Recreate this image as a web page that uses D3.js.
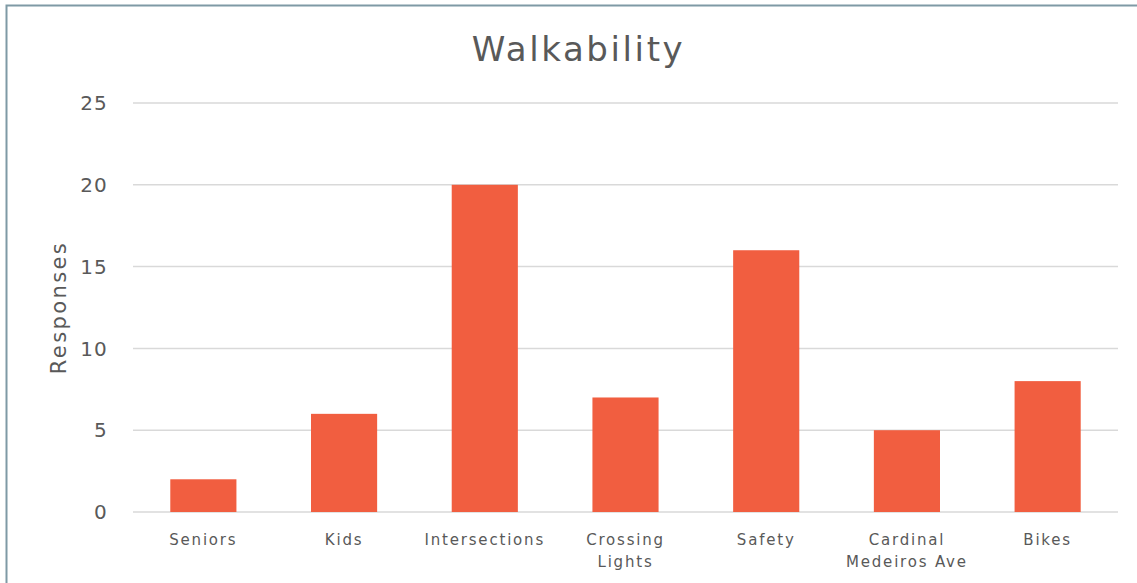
<!DOCTYPE html>
<html><head><meta charset="utf-8">
<script src="https://cdn.jsdelivr.net/npm/d3@7"></script>
<style>body{margin:0;background:#fff;}svg{display:block;}</style>
</head><body>
<script>
const categories = [["Seniors"],["Kids"],["Intersections"],["Crossing","Lights"],["Safety"],["Cardinal","Medeiros Ave"],["Bikes"]];
const values = [2, 6, 20, 7, 16, 5, 8];
const yTicks = [0, 5, 10, 15, 20, 25];
const title = "Walkability";
const yTitle = "Responses";

(function() {
const W = 1137, H = 583;
const svg = d3.select("body").append("svg").attr("width", W).attr("height", H);
svg.append("rect").attr("x", 6.5).attr("y", 5.5).attr("width", W + 10).attr("height", H + 10)
  .attr("fill", "#fff").attr("stroke", "#7F9AA5").attr("stroke-width", 2);

const mL = 133, mR = 1118, mT = 103, mB = 512;
const names = categories.map(c => c.join(" "));
const x = d3.scaleBand().domain(names).range([mL, mR]).paddingInner(0.53).paddingOuter(0.265);
const y = d3.scaleLinear().domain([0, 25]).range([mB, mT]);
const font = "'DejaVu Sans', sans-serif";

svg.append("g").selectAll("line").data(yTicks).join("line")
  .attr("x1", mL).attr("x2", mR).attr("y1", d => y(d)).attr("y2", d => y(d))
  .attr("stroke", "#D9D9D9").attr("stroke-width", 1.5);

svg.append("g").selectAll("text").data(yTicks).join("text")
  .attr("x", 108).attr("y", d => y(d)).attr("dy", "0.36em").attr("text-anchor", "end")
  .attr("font-family", font).attr("font-size", 20).attr("letter-spacing", 1.2).attr("fill", "#595959").text(d => d);

svg.append("g").selectAll("rect").data(values).join("rect")
  .attr("x", (d, i) => x(names[i])).attr("width", x.bandwidth())
  .attr("y", d => y(d)).attr("height", d => y(0) - y(d)).attr("fill", "#F15E40");

const lab = svg.append("g").selectAll("text").data(categories).join("text")
  .attr("x", (d, i) => x(names[i]) + x.bandwidth() / 2).attr("y", 545).attr("text-anchor", "middle")
  .attr("font-family", font).attr("font-size", 15).attr("letter-spacing", 1.8).attr("fill", "#595959");
lab.selectAll("tspan").data(d => d).join("tspan")
  .attr("x", function() { return this.parentNode.getAttribute("x"); })
  .attr("dy", (d, i) => i === 0 ? 0 : 22).text(d => d);

svg.append("text").attr("x", W / 2 + 10).attr("y", 61).attr("text-anchor", "middle")
  .attr("font-family", font).attr("font-size", 34).attr("letter-spacing", 2.6).attr("fill", "#595959").text(title);

svg.append("text").attr("transform", `translate(66,${(mT + mB) / 2}) rotate(-90)`)
  .attr("text-anchor", "middle").attr("font-family", font).attr("font-size", 21).attr("letter-spacing", 2.4)
  .attr("fill", "#595959").text(yTitle);
})();
</script>
</body></html>
